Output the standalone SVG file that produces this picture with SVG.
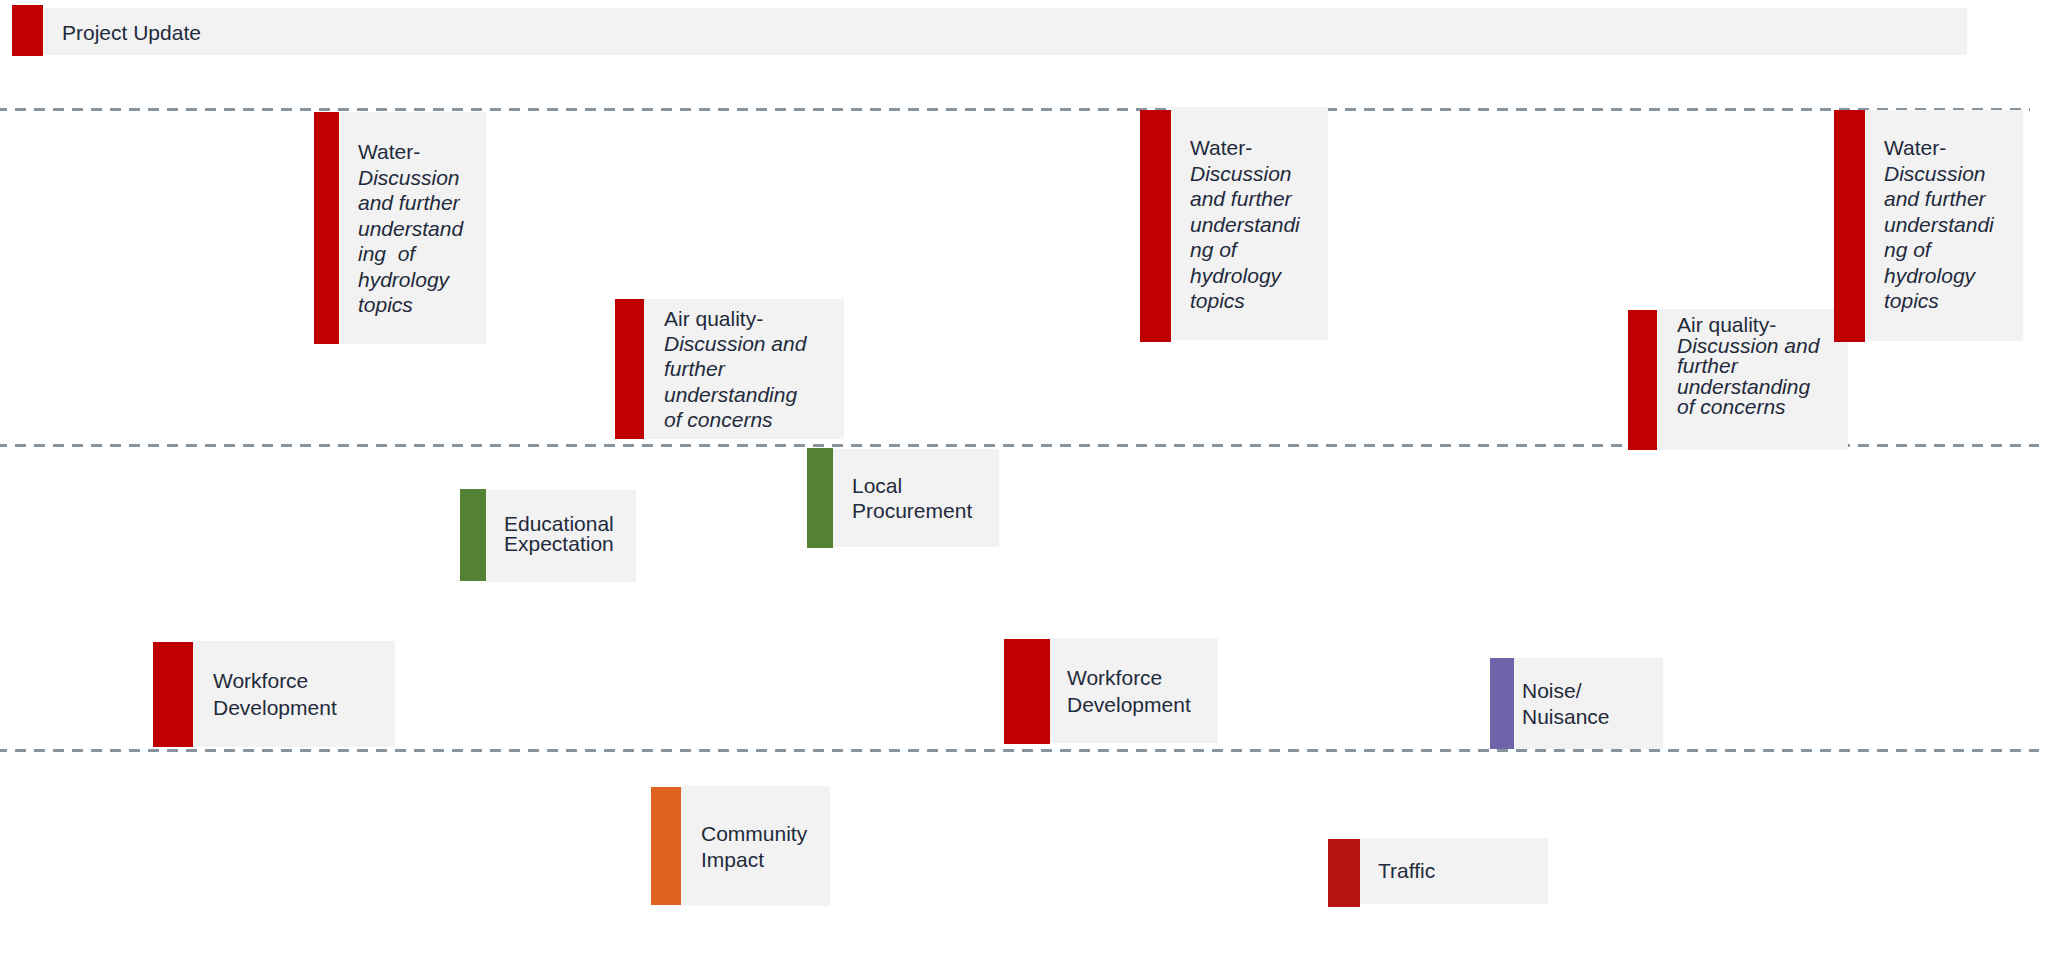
<svg xmlns="http://www.w3.org/2000/svg" width="2049" height="955" viewBox="0 0 2049 955">
<style>
.bg{fill:#f2f2f2}
.red{fill:#c00000}
.green{fill:#548235}
.purple{fill:#6f63a9}
.orange{fill:#e0621e}
.tred{fill:#b81414}
text{font-family:"Liberation Sans",Arial,sans-serif;font-size:21px;fill:#1f2a3c}
.i{font-style:italic}
.sep{stroke:#8694a0;stroke-width:2.8;stroke-dasharray:11 8;stroke-dashoffset:4;fill:none}
</style>
<rect width="2049" height="955" fill="#ffffff"/>
<g id="connectors">
<line class="sep" x1="0" y1="109.5" x2="2030" y2="109.5"/>
<line class="sep" x1="0" y1="445.5" x2="2039" y2="445.5"/>
<line class="sep" x1="0" y1="750.5" x2="2039" y2="750.5"/>
</g>
<g id="project-update">
<rect class="bg" x="43" y="8" width="1924" height="47"/>
<rect class="red" x="12" y="5" width="31" height="51"/>
<text x="62" y="40">Project Update</text>
</g>
<g id="water-1">
<rect class="bg" x="339" y="112" width="147" height="232"/>
<rect class="red" x="314" y="112" width="25" height="232"/>
<text x="358" y="159" xml:space="preserve"><tspan x="358" y="159">Water-</tspan><tspan class="i" x="358" y="185">Discussion</tspan><tspan class="i" x="358" y="210">and further</tspan><tspan class="i" x="358" y="236">understand</tspan><tspan class="i" x="358" y="261">ing  of</tspan><tspan class="i" x="358" y="287">hydrology</tspan><tspan class="i" x="358" y="312">topics</tspan></text>
</g>
<g id="air-quality-1">
<rect class="bg" x="644" y="299" width="200" height="140"/>
<rect class="red" x="615" y="299" width="29" height="140"/>
<text x="664" y="326"><tspan x="664" y="326">Air quality-</tspan><tspan class="i" x="664" y="351">Discussion and</tspan><tspan class="i" x="664" y="376">further</tspan><tspan class="i" x="664" y="402">understanding</tspan><tspan class="i" x="664" y="427">of concerns</tspan></text>
</g>
<g id="water-2">
<rect class="bg" x="1171" y="107" width="157" height="233"/>
<rect class="red" x="1140" y="110" width="31" height="232"/>
<text x="1190" y="155"><tspan x="1190" y="155">Water-</tspan><tspan class="i" x="1190" y="181">Discussion</tspan><tspan class="i" x="1190" y="206">and further</tspan><tspan class="i" x="1190" y="232">understandi</tspan><tspan class="i" x="1190" y="257">ng of</tspan><tspan class="i" x="1190" y="283">hydrology</tspan><tspan class="i" x="1190" y="308">topics</tspan></text>
</g>
<g id="air-quality-2">
<rect class="bg" x="1657" y="309" width="191" height="141"/>
<rect class="red" x="1628" y="310" width="29" height="140"/>
<text x="1677" y="332"><tspan x="1677" y="332">Air quality-</tspan><tspan class="i" x="1677" y="353">Discussion and</tspan><tspan class="i" x="1677" y="373">further</tspan><tspan class="i" x="1677" y="394">understanding</tspan><tspan class="i" x="1677" y="414">of concerns</tspan></text>
</g>
<g id="water-3">
<rect class="bg" x="1865" y="110" width="158" height="231"/>
<rect class="red" x="1834" y="110" width="31" height="232"/>
<text x="1884" y="155"><tspan x="1884" y="155">Water-</tspan><tspan class="i" x="1884" y="181">Discussion</tspan><tspan class="i" x="1884" y="206">and further</tspan><tspan class="i" x="1884" y="232">understandi</tspan><tspan class="i" x="1884" y="257">ng of</tspan><tspan class="i" x="1884" y="283">hydrology</tspan><tspan class="i" x="1884" y="308">topics</tspan></text>
</g>
<g id="educational-expectation">
<rect class="bg" x="486" y="490" width="150" height="92"/>
<rect class="green" x="460" y="489" width="26" height="92"/>
<text x="504" y="531"><tspan x="504" y="531">Educational</tspan><tspan x="504" y="551">Expectation</tspan></text>
</g>
<g id="local-procurement">
<rect class="bg" x="833" y="449" width="166" height="98"/>
<rect class="green" x="807" y="448" width="26" height="100"/>
<text x="852" y="493"><tspan x="852" y="493">Local</tspan><tspan x="852" y="518">Procurement</tspan></text>
</g>
<g id="workforce-1">
<rect class="bg" x="193" y="641" width="202" height="106"/>
<rect class="red" x="153" y="642" width="40" height="105"/>
<text x="213" y="688"><tspan x="213" y="688">Workforce</tspan><tspan x="213" y="715">Development</tspan></text>
</g>
<g id="workforce-2">
<rect class="bg" x="1050" y="638" width="168" height="105"/>
<rect class="red" x="1004" y="639" width="46" height="105"/>
<text x="1067" y="685"><tspan x="1067" y="685">Workforce</tspan><tspan x="1067" y="712">Development</tspan></text>
</g>
<g id="noise-nuisance">
<rect class="bg" x="1514" y="658" width="149" height="91"/>
<rect class="purple" x="1490" y="658" width="24" height="91"/>
<text x="1522" y="698"><tspan x="1522" y="698">Noise/</tspan><tspan x="1522" y="724">Nuisance</tspan></text>
</g>
<g id="community-impact">
<rect class="bg" x="681" y="786" width="149" height="120"/>
<rect class="orange" x="651" y="787" width="30" height="118"/>
<text x="701" y="841"><tspan x="701" y="841">Community</tspan><tspan x="701" y="867">Impact</tspan></text>
</g>
<g id="traffic">
<rect class="bg" x="1360" y="838" width="188" height="66"/>
<rect class="tred" x="1328" y="839" width="32" height="68"/>
<text x="1378" y="878">Traffic</text>
</g>
</svg>
